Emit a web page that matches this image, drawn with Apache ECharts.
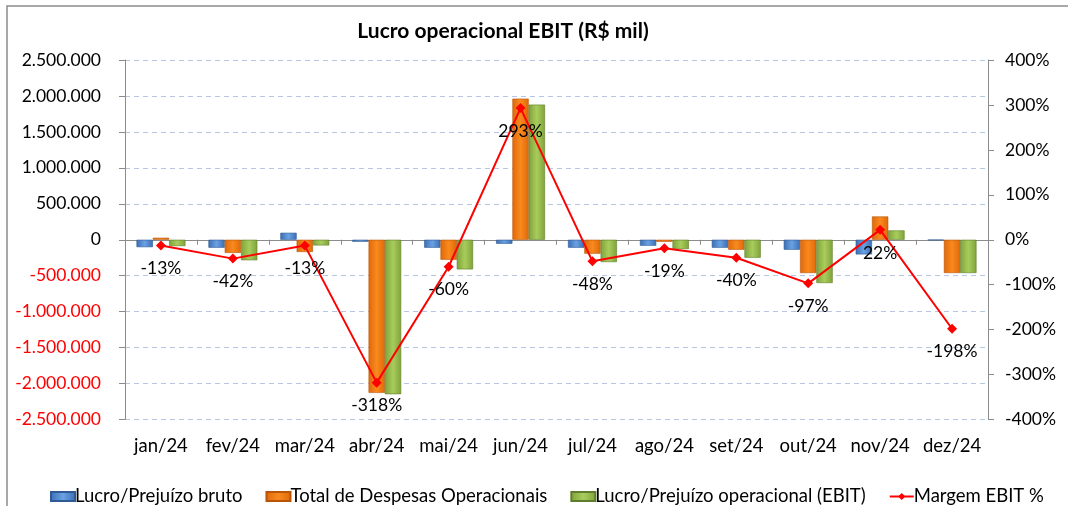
<!DOCTYPE html>
<html>
<head>
<meta charset="utf-8">
<script src="https://cdn.jsdelivr.net/npm/echarts@6/dist/echarts.min.js"></script>
<style>
  html, body { margin: 0; padding: 0; background: #fff; }
  #container { width: 1068px; height: 506px; }
</style>
</head>
<body>
<div id="container"></div>
<script>
var categories = ["jan/24", "fev/24", "mar/24", "abr/24", "mai/24", "jun/24",
  "jul/24", "ago/24", "set/24", "out/24", "nov/24", "dez/24"];
var lucroBruto = [-103000, -111000, 97000, -28000, -111000, -56000,
  -111000, -83000, -111000, -139000, -204000, -5000];
var despesasOperacionais = [28000, -183000, -170000, -2130000, -278000, 1963000,
  -194000, -28000, -139000, -463000, 324000, -463000];
var lucroOperacional = [-88000, -285000, -79000, -2148000, -412000, 1880000,
  -310000, -130000, -250000, -602000, 130000, -463000];
var margemEbit = [-13, -42, -13, -318, -60, 293, -48, -19, -40, -97, 22, -198];

var FONT = "Lato";

function barGradient(edge, mid) {
  return new echarts.graphic.LinearGradient(0, 0, 1, 0, [
    { offset: 0, color: edge },
    { offset: 0.5, color: mid },
    { offset: 1, color: edge },
  ]);
}

function formatThousands(v) {
  var s = Math.abs(v).toString().replace(/\B(?=(\d{3})+(?!\d))/g, ".");
  return (v < 0 ? "-" : "") + s;
}

var dom = document.getElementById("container");
var myChart = echarts.init(dom, null, { renderer: "canvas" });

var option = {
  animation: false,
  textStyle: { fontFamily: FONT },
  graphic: [
    {
      type: "rect",
      shape: { x: 7, y: 6, width: 1100, height: 560 },
      style: { fill: "none", stroke: "#8c8c8c", lineWidth: 1.5 },
      silent: true,
    },
  ],
  title: {
    text: "Lucro operacional EBIT (R$ mil)",
    left: 498,
    textAlign: "center",
    top: 16,
    textStyle: { fontFamily: FONT, fontSize: 21, fontWeight: "bold", color: "#000" },
  },
  legend: {
    left: 45,
    top: 482,
    itemWidth: 24,
    itemHeight: 9,
    itemGap: 23,
    textStyle: { fontFamily: FONT, fontSize: 18.5, color: "#000", padding: [0, 0, 0, -5] },
    data: [
      { name: "Lucro/Prejuízo bruto", icon: "rect" },
      { name: "Total de Despesas Operacionais", icon: "rect" },
      { name: "Lucro/Prejuízo operacional (EBIT)", icon: "rect" },
      { name: "Margem EBIT %" },
    ],
  },
  grid: { left: 125, right: 80, top: 60, bottom: 86.5 },
  xAxis: [
    {
      type: "category",
      data: categories,
      axisLine: { onZero: true, onZeroAxisIndex: 0, lineStyle: { color: "#8c8c8c", width: 1 } },
      axisTick: { show: true, length: 5, lineStyle: { color: "#8c8c8c" } },
      axisLabel: { show: false },
      splitLine: { show: false },
    },
    {
      type: "category",
      data: categories,
      position: "bottom",
      axisLine: { show: false },
      axisTick: { show: false },
      axisLabel: { fontFamily: FONT, fontSize: 18.5, color: "#000", margin: 17, interval: 0, hideOverlap: false },
    },
  ],
  yAxis: [
    {
      type: "value",
      min: -2500000,
      max: 2500000,
      interval: 500000,
      axisLine: { show: true, lineStyle: { color: "#8c8c8c" } },
      axisTick: { show: true, length: 6, lineStyle: { color: "#8c8c8c" } },
      axisLabel: {
        fontFamily: FONT,
        fontSize: 17.5,
        margin: 24,
        formatter: function (v) { return formatThousands(v); },
        color: function (v) { return Number(v) < 0 ? "#ff0000" : "#000"; },
      },
      splitLine: { show: true, lineStyle: { color: "#b4c7e7", type: [5, 4], width: 1 } },
    },
    {
      type: "value",
      min: -400,
      max: 400,
      interval: 100,
      position: "right",
      axisLine: { show: true, lineStyle: { color: "#8c8c8c" } },
      axisTick: { show: true, length: 6, lineStyle: { color: "#8c8c8c" } },
      axisLabel: {
        fontFamily: FONT,
        fontSize: 17.5,
        color: "#000",
        margin: 17,
        formatter: "{value}%",
      },
      splitLine: { show: false },
    },
  ],
  series: [
    {
      name: "Lucro/Prejuízo bruto",
      type: "bar",
      data: lucroBruto,
      barGap: "0%",
      barCategoryGap: "32%",
      itemStyle: {
        color: barGradient("#3b6db3", "#6aa2e4"),
        borderColor: "#2f5a96",
        borderWidth: 0.6,
      },
    },
    {
      name: "Total de Despesas Operacionais",
      type: "bar",
      data: despesasOperacionais,
      barGap: "0%",
      barCategoryGap: "32%",
      itemStyle: {
        color: barGradient("#e0680a", "#f98a1e"),
        borderColor: "#b85508",
        borderWidth: 0.6,
      },
    },
    {
      name: "Lucro/Prejuízo operacional (EBIT)",
      type: "bar",
      data: lucroOperacional,
      barGap: "0%",
      barCategoryGap: "32%",
      itemStyle: {
        color: barGradient("#7fa33a", "#a8cc5c"),
        borderColor: "#5f7d2a",
        borderWidth: 0.6,
      },
    },
    {
      name: "Margem EBIT %",
      type: "line",
      yAxisIndex: 1,
      data: margemEbit,
      symbol: "diamond",
      symbolSize: 10,
      z: 5,
      lineStyle: { color: "#ff0000", width: 2 },
      itemStyle: { color: "#ff0000" },
      label: {
        show: true,
        position: "bottom",
        distance: 9,
        fontFamily: FONT,
        fontSize: 17.5,
        color: "#000",
        formatter: "{c}%",
      },
    },
  ],
};

if (option && typeof option === "object") {
  myChart.setOption(option);
}

window.addEventListener("resize", myChart.resize);
</script>
</body>
</html>
